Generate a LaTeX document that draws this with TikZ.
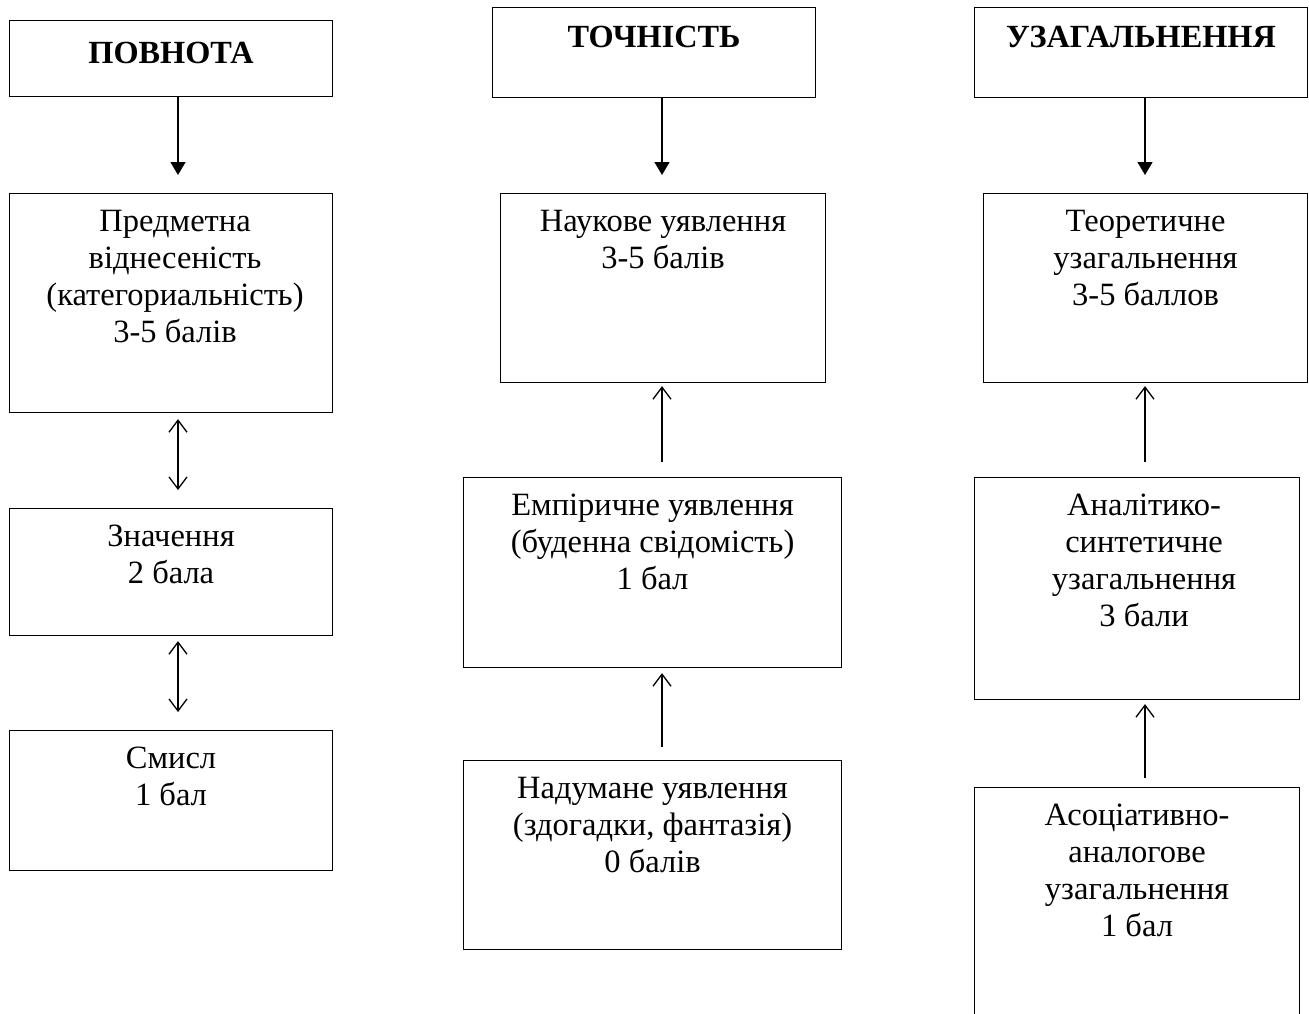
\documentclass[tikz,border=0pt]{standalone}
\usepackage{fontspec}
\setmainfont{Liberation Serif}
\usetikzlibrary{arrows.meta}
\newcommand{\mylines}[1]{\begin{tabular}[t]{@{}c@{}}#1\end{tabular}}
\tikzset{
  box/.style={draw, line width=1.1pt, anchor=north west, inner sep=0pt},
  txt/.style={anchor=base, inner sep=0pt, font=\fontsize{32.5}{37}\selectfont},
  ttl/.style={anchor=base, inner sep=0pt, font=\fontsize{32.3}{37}\selectfont\bfseries},
  down/.style={line width=1.3pt, -{Triangle[width=15pt,length=13pt]}},
  up/.style={line width=1.3pt, -{Straight Barb[width=18pt,length=12pt,line width=1.3pt]}},
  both/.style={line width=1.3pt, {Straight Barb[width=18pt,length=12pt,line width=1.3pt]}-{Straight Barb[width=18pt,length=12pt,line width=1.3pt]}}
}
\begin{document}
\begin{tikzpicture}[x=1pt,y=-1pt]
\useasboundingbox (0,0) rectangle (1309,1013);
\begin{scope}
\clip (0,0) rectangle (1309,1013);
% column A
\node[box, minimum width=323pt, minimum height=76pt] (A1) at (9,20) {};
\node[box, minimum width=323pt, minimum height=219pt] (A2) at (9,193) {};
\node[box, minimum width=323pt, minimum height=127pt] (A3) at (9,508) {};
\node[box, minimum width=323pt, minimum height=140pt] (A4) at (9,730) {};
% column B
\node[box, minimum width=323pt, minimum height=90pt] (B1) at (492,7) {};
\node[box, minimum width=325pt, minimum height=189pt] (B2) at (500,193) {};
\node[box, minimum width=378pt, minimum height=190pt] (B3) at (463,477) {};
\node[box, minimum width=378pt, minimum height=189pt] (B4) at (463,760) {};
% column C
\node[box, minimum width=333pt, minimum height=90pt] (C1) at (974,7) {};
\node[box, minimum width=324pt, minimum height=189pt] (C2) at (983,193) {};
\node[box, minimum width=325pt, minimum height=222pt] (C3) at (974,477) {};
\node[box, minimum width=325pt, minimum height=300pt] (C4) at (974,787) {};
\end{scope}

% texts
\node[ttl] (tA1) at ([yshift=-43pt]A1.north) {ПОВНОТА};
\node[txt] (tA2) at ([xshift=4pt,yshift=-38pt]A2.north) {\mylines{Предметна\\віднесеність\\(категориальність)\\3-5 балів}};
\node[txt] (tA3) at ([yshift=-38pt]A3.north) {\mylines{Значення\\2 бала}};
\node[txt] (tA4) at ([yshift=-38pt]A4.north) {\mylines{Смисл\\1 бал}};

\node[ttl] (tB1) at ([yshift=-40pt]B1.north) {ТОЧНІСТЬ};
\node[txt] (tB2) at ([yshift=-38pt]B2.north) {\mylines{Наукове уявлення\\3-5 балів}};
\node[txt] (tB3) at ([yshift=-38pt]B3.north) {\mylines{Емпіричне уявлення\\(буденна свідомість)\\1 бал}};
\node[txt] (tB4) at ([yshift=-38pt]B4.north) {\mylines{Надумане уявлення\\(здогадки, фантазія)\\0 балів}};

\node[ttl] (tC1) at ([yshift=-40pt]C1.north) {УЗАГАЛЬНЕННЯ};
\node[txt] (tC2) at ([yshift=-38pt]C2.north) {\mylines{Теоретичне\\узагальнення\\3-5 баллов}};
\node[txt] (tC3) at ([xshift=7pt,yshift=-38pt]C3.north) {\mylines{Аналітико-\\синтетичне\\узагальнення\\3 бали}};
\node[txt] (tC4) at ([yshift=-38pt]C4.north) {\mylines{Асоціативно-\\аналогове\\узагальнення\\1 бал}};

% arrow axes
\coordinate (ax) at (178,0);
\coordinate (bx) at (662,0);
\coordinate (cx) at (1145,0);

% connectors
\draw[down, shorten >=18pt] (A1.south -| ax) -- (A2.north -| ax);
\draw[both, shorten <=6pt, shorten >=18pt] (A2.south -| ax) -- (A3.north -| ax);
\draw[both, shorten <=5pt, shorten >=18pt] (A3.south -| ax) -- (A4.north -| ax);

\draw[down, shorten >=18pt] (B1.south -| bx) -- (B2.north -| bx);
\draw[up, shorten <=15pt, shorten >=3pt] (B3.north -| bx) -- (B2.south -| bx);
\draw[up, shorten <=13pt, shorten >=5pt] (B4.north -| bx) -- (B3.south -| bx);

\draw[down, shorten >=18pt] (C1.south -| cx) -- (C2.north -| cx);
\draw[up, shorten <=15pt, shorten >=3pt] (C3.north -| cx) -- (C2.south -| cx);
\draw[up, shorten <=9pt, shorten >=4pt] (C4.north -| cx) -- (C3.south -| cx);
\end{tikzpicture}
\end{document}
